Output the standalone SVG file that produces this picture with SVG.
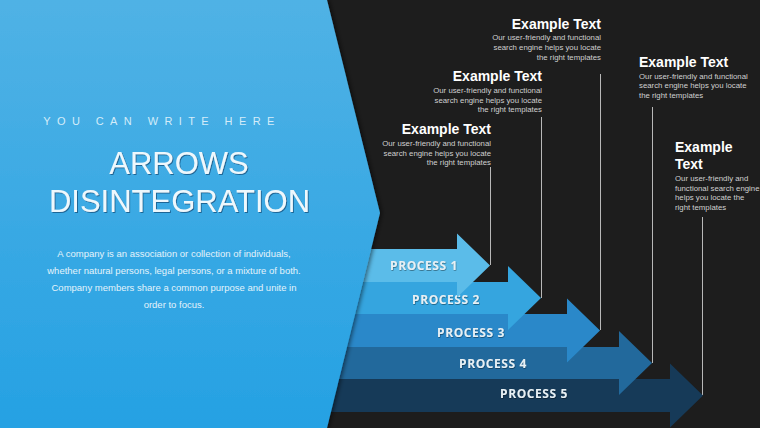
<svg xmlns="http://www.w3.org/2000/svg" width="760" height="428" viewBox="0 0 760 428">
<defs>
<linearGradient id="pg" x1="0" y1="0" x2="0" y2="1">
<stop offset="0" stop-color="#50b2e5"/>
<stop offset="1" stop-color="#25a1e3"/>
</linearGradient>
<filter id="sh" x="-10%" y="-10%" width="130%" height="130%">
<feDropShadow dx="2" dy="0" stdDeviation="2" flood-color="#000" flood-opacity="0.5"/>
</filter>
<filter id="ts" x="-10%" y="-20%" width="120%" height="150%">
<feDropShadow dx="1" dy="1" stdDeviation="0.6" flood-color="#0b4a75" flood-opacity="0.7"/>
</filter>
<filter id="ps" x="-10%" y="-20%" width="120%" height="150%">
<feDropShadow dx="0.5" dy="0.8" stdDeviation="0.6" flood-color="#000" flood-opacity="0.45"/>
</filter>
</defs>
<style>
.proc{font-family:"Open Sans","Liberation Sans",sans-serif;font-weight:700;font-size:12px;fill:#e8f0f4;letter-spacing:0.6px;}
.ttl{font-family:"Liberation Sans",Arial,sans-serif;font-weight:700;font-size:14px;fill:#ffffff;}
.dsc{font-family:"Liberation Sans",Arial,sans-serif;font-size:7.8px;fill:#d0d0d0;}
.lead{stroke:#b8b8b8;stroke-width:1;fill:none;}
.para{font-family:"Liberation Sans",Arial,sans-serif;font-size:9.5px;fill:#e4f3fb;}
</style>
<rect x="0" y="0" width="760" height="428" fill="#1d1d1d"/>

<g id="connectors">
<line class="lead" x1="490.5" y1="167" x2="490.5" y2="265"/>
<line class="lead" x1="541.5" y1="117" x2="541.5" y2="298"/>
<line class="lead" x1="600.5" y1="74" x2="600.5" y2="330"/>
<line class="lead" x1="652.5" y1="107" x2="652.5" y2="363"/>
<line class="lead" x1="702.5" y1="217" x2="702.5" y2="395"/>
</g>

<g id="arrow5"><path d="M300 379 H670 V363.5 L703 395.5 L670 427.5 V412 H300 Z" fill="#163a58"/><text class="proc" x="534" y="397.5" text-anchor="middle" filter="url(#ps)">PROCESS 5</text></g>
<g id="arrow4"><path d="M300 347 H619 V331 L652 363 L619 395 V379 H300 Z" fill="#22699c"/><text class="proc" x="493" y="367.5" text-anchor="middle" filter="url(#ps)">PROCESS 4</text></g>
<g id="arrow3"><path d="M300 314 H567 V298.5 L600 330.5 L567 362.5 V347 H300 Z" fill="#2a88c9"/><text class="proc" x="471" y="336.5" text-anchor="middle" filter="url(#ps)">PROCESS 3</text></g>
<g id="arrow2"><path d="M300 282 H508 V266 L541 298 L508 330 V314 H300 Z" fill="#35a5df"/><text class="proc" x="446" y="303.5" text-anchor="middle" filter="url(#ps)">PROCESS 2</text></g>
<g id="arrow1"><path d="M300 249 H457 V233.5 L490 265.5 L457 297.5 V282 H300 Z" fill="#5bbce9"/><text class="proc" x="424" y="269.5" text-anchor="middle" filter="url(#ps)">PROCESS 1</text></g>

<g id="panel">
<path d="M0 0 H327 L380 213 L327 428 H0 Z" fill="url(#pg)" filter="url(#sh)"/>
<text x="162" y="125" text-anchor="middle" font-family="Liberation Sans,Arial,sans-serif" font-size="11" fill="#d4ecf9" letter-spacing="6.4">YOU CAN WRITE HERE</text>
<g filter="url(#ts)" font-family="Liberation Sans,Arial,sans-serif" font-size="31" fill="#eef8fd" text-anchor="middle">
<text x="179" y="174">ARROWS</text>
<text x="179.5" y="212">DISINTEGRATION</text>
</g>
<text class="para" text-anchor="middle"><tspan x="174" y="257">A company is an association or collection of individuals,</tspan><tspan x="174" y="274">whether natural persons, legal persons, or a mixture of both.</tspan><tspan x="174" y="291">Company members share a common purpose and unite in</tspan><tspan x="174" y="307.5">order to focus.</tspan></text>
</g>

<g id="label1" text-anchor="end">
<text class="ttl" x="491" y="134">Example Text</text>
<text class="dsc"><tspan x="491" y="146">Our user-friendly  and functional</tspan><tspan x="491" y="155.5">search engine helps you locate</tspan><tspan x="491" y="165">the right templates</tspan></text>
</g>
<g id="label2" text-anchor="end">
<text class="ttl" x="542" y="81">Example Text</text>
<text class="dsc"><tspan x="542" y="93">Our user-friendly  and functional</tspan><tspan x="542" y="102.5">search engine helps you locate</tspan><tspan x="542" y="112">the right templates</tspan></text>
</g>
<g id="label3" text-anchor="end">
<text class="ttl" x="601" y="29">Example Text</text>
<text class="dsc"><tspan x="601" y="40">Our user-friendly  and functional</tspan><tspan x="601" y="50">search engine helps you locate</tspan><tspan x="601" y="60">the right templates</tspan></text>
</g>
<g id="label4">
<text class="ttl" x="639" y="67">Example Text</text>
<text class="dsc"><tspan x="639" y="79">Our user-friendly  and functional</tspan><tspan x="639" y="88">search engine helps you locate</tspan><tspan x="639" y="98">the right templates</tspan></text>
</g>
<g id="label5">
<text class="ttl" x="675" y="152">Example</text>
<text class="ttl" x="675" y="169">Text</text>
<text class="dsc"><tspan x="675" y="181">Our user-friendly  and</tspan><tspan x="675" y="190.5">functional search engine</tspan><tspan x="675" y="200">helps you locate the</tspan><tspan x="675" y="209.5">right templates</tspan></text>
</g>
</svg>
